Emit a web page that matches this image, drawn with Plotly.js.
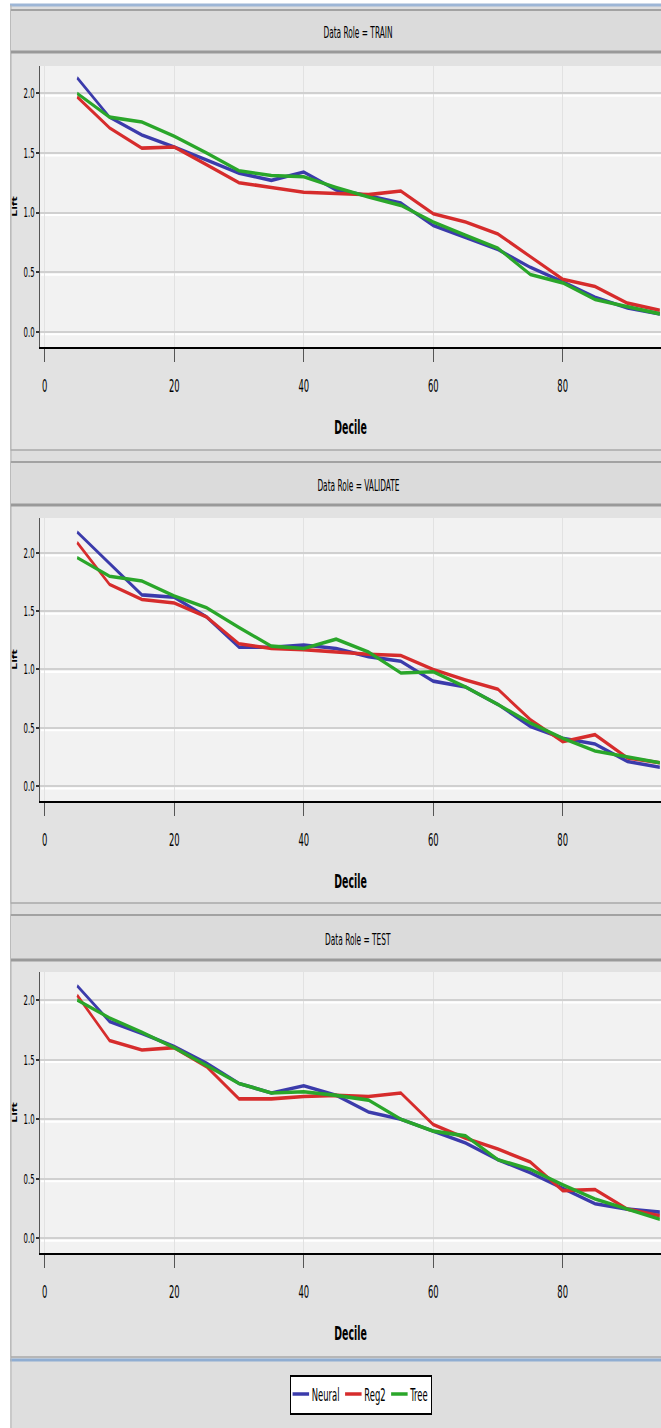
<!DOCTYPE html>
<html>
<head>
<meta charset="utf-8">
<script src="https://cdn.plot.ly/plotly-3.0.1.min.js"></script>
<style>
html,body{margin:0;padding:0;background:#ffffff;overflow:hidden;}
#wrap{width:661px;height:1428px;overflow:hidden;position:relative;}
#chart{width:1202px;height:1428px;transform:scaleX(0.55);transform-origin:0 0;}
svg text{font-stretch:condensed;}
</style>
</head>
<body>
<div id="wrap"><div id="chart"></div></div>
<script>
// ---- data ----
const deciles = [5,10,15,20,25,30,35,40,45,50,55,60,65,70,75,80,85,90,95];
const seriesNames = ["Neural", "Reg2", "Tree"];
const roles = ["TRAIN", "VALIDATE", "TEST"];

const trainNeural = [2.13,1.80,1.65,1.55,1.44,1.33,1.27,1.34,1.19,1.14,1.08,0.89,0.79,0.69,0.54,0.42,0.29,0.20,0.15];
const trainReg2   = [1.97,1.71,1.54,1.55,1.40,1.25,1.21,1.17,1.16,1.15,1.18,0.99,0.92,0.82,0.63,0.44,0.38,0.24,0.18];
const trainTree   = [2.00,1.80,1.76,1.64,1.50,1.35,1.31,1.30,1.21,1.13,1.06,0.92,0.81,0.70,0.48,0.41,0.27,0.21,0.15];

const validNeural = [2.18,1.91,1.64,1.62,1.45,1.19,1.19,1.21,1.18,1.11,1.07,0.90,0.85,0.70,0.51,0.41,0.36,0.21,0.16];
const validReg2   = [2.09,1.73,1.60,1.57,1.45,1.22,1.18,1.17,1.15,1.13,1.12,1.00,0.91,0.83,0.57,0.38,0.44,0.24,0.20];
const validTree   = [1.96,1.80,1.76,1.63,1.53,1.36,1.20,1.18,1.26,1.15,0.97,0.98,0.85,0.70,0.54,0.41,0.30,0.25,0.20];

const testNeural  = [2.12,1.82,1.72,1.61,1.47,1.30,1.22,1.28,1.20,1.06,1.00,0.90,0.80,0.66,0.55,0.42,0.29,0.245,0.22];
const testReg2    = [2.04,1.66,1.58,1.60,1.44,1.17,1.17,1.19,1.20,1.19,1.22,0.955,0.84,0.75,0.64,0.40,0.41,0.245,0.19];
const testTree    = [2.00,1.85,1.73,1.60,1.45,1.30,1.22,1.23,1.20,1.16,1.00,0.90,0.86,0.66,0.58,0.45,0.33,0.245,0.16];

const xTickVals = [0,20,40,60,80];
const xTickText = ["0","20","40","60","80"];
const yTickVals = [0,0.5,1,1.5,2];
const yTickText = ["0.0","0.5","1.0","1.5","2.0"];

// ---- styling / layout ----
const OUT_W = 661, H = 1428, SQUEEZE = 0.55;
const W = Math.round(OUT_W / SQUEEZE);
const FONT = "'DejaVu Sans', 'Liberation Sans', sans-serif";
const colors = ["#3b3bab", "#d62c2c", "#2aa62a"];
const px = p => p / OUT_W;          // output-pixel x -> paper fraction
const py = p => 1 - p / H;          // output-pixel y -> paper fraction

const panelData = [
  [trainNeural, trainReg2, trainTree],
  [validNeural, validReg2, validTree],
  [testNeural, testReg2, testTree]
];
const plotBoxes = [ {top:66, bottom:347, yr:[-0.128, 2.229]},
                    {top:518, bottom:801, yr:[-0.129, 2.30]},
                    {top:972, bottom:1253, yr:[-0.123, 2.235]} ];
const panelBoxes = [ {top:10, head:52, bottom:450},
                     {top:462, head:505, bottom:903},
                     {top:915, head:960, bottom:1357} ];

const traces = [];
panelData.forEach((set, pi) => {
  set.forEach((vals, si) => {
    traces.push({
      type: "scatter", mode: "lines",
      x: deciles, y: vals,
      name: seriesNames[si],
      legendgroup: seriesNames[si],
      showlegend: pi === 0,
      line: {color: colors[si], width: 3.6},
      xaxis: pi === 0 ? "x" : "x" + (pi + 1),
      yaxis: pi === 0 ? "y" : "y" + (pi + 1)
    });
  });
});

const layout = {
  width: W, height: H, autosize: false,
  margin: {l:0, r:0, t:0, b:0, pad:0},
  paper_bgcolor: "#ffffff",
  plot_bgcolor: "#f2f2f2",
  font: {family: FONT, color: "#000000", size: 12},
  showlegend: true,
  legend: {
    orientation: "h", x: px(361), xanchor: "center", y: py(1394.5), yanchor: "middle",
    bgcolor: "#ffffff", bordercolor: "#000000", borderwidth: 2,
    font: {family: FONT, size: 17, color: "#000000"},
    itemwidth: 30, tracegroupgap: 0
  },
  shapes: [],
  annotations: []
};

// frame background and blue rules
layout.shapes.push({type:"rect", xref:"paper", yref:"paper", x0:px(10), x1:px(OUT_W+5), y0:py(H+5), y1:py(5), fillcolor:"#dedede", line:{width:0}, layer:"below"});
layout.shapes.push({type:"line", xref:"paper", yref:"paper", x0:px(10), x1:px(OUT_W+5), y0:py(5), y1:py(5), line:{color:"#9db6d6", width:3}, layer:"below"});
layout.shapes.push({type:"line", xref:"paper", yref:"paper", x0:px(10), x1:px(OUT_W+5), y0:py(1360), y1:py(1360), line:{color:"#8fadd2", width:3}, layer:"below"});
layout.shapes.push({type:"line", xref:"paper", yref:"paper", x0:px(11), x1:px(11), y0:py(5), y1:py(1428), line:{color:"#b8b8b8", width:2}, layer:"below"});

panelBoxes.forEach((b, i) => {
  layout.shapes.push({type:"rect", xref:"paper", yref:"paper", x0:px(11), x1:px(OUT_W+5), y0:py(b.bottom), y1:py(b.top), fillcolor:"#e2e2e2", line:{color:"#a9a9a9", width:1.5}, layer:"below"});
  layout.shapes.push({type:"rect", xref:"paper", yref:"paper", x0:px(11), x1:px(OUT_W+5), y0:py(b.head), y1:py(b.top), fillcolor:"#dbdbdb", line:{width:0}, layer:"below"});
  layout.shapes.push({type:"line", xref:"paper", yref:"paper", x0:px(11), x1:px(OUT_W+5), y0:py(b.top), y1:py(b.top), line:{color:"#a2a2a2", width:2}, layer:"below"});
  layout.shapes.push({type:"line", xref:"paper", yref:"paper", x0:px(11), x1:px(OUT_W+5), y0:py(b.head), y1:py(b.head), line:{color:"#999999", width:3}, layer:"below"});
  layout.annotations.push({xref:"paper", yref:"paper", x:px(358), y:py((b.top + b.head) / 2 + 2), xanchor:"center", yanchor:"middle",
    text:"Data Role = " + roles[i], showarrow:false, font:{family:FONT, size:15, color:"#000000"}});
});

plotBoxes.forEach((b, i) => {
  const sfx = i === 0 ? "" : String(i + 1);
  // plot-area background (drawn under the grid)
  layout.shapes.push({type:"rect", xref:"paper", yref:"paper", x0:px(40), x1:px(OUT_W+5), y0:py(b.bottom), y1:py(b.top), fillcolor:"#f2f2f2", line:{width:0}, layer:"below"});
  // white highlight just under each horizontal grid line
  yTickVals.forEach(v => {
    layout.shapes.push({type:"line", xref:"paper", yref:"y" + sfx, ysizemode:"pixel", yanchor:v, x0:px(41), x1:px(OUT_W+5), y0:-2.5, y1:-2.5, line:{color:"#ffffff", width:2}, layer:"below"});
  });
  layout["xaxis" + sfx] = {
    domain: [px(40), 1], range: [-0.74, 95.2], anchor: "y" + sfx,
    tickmode: "array", tickvals: xTickVals, ticktext: xTickText,
    ticks: "outside", ticklen: 13, tickwidth: 2, tickcolor: "#555555",
    ticklabelstandoff: 10,
    showline: true, linecolor: "#000000", linewidth: 2,
    showgrid: true, gridcolor: "#e2e2e2", gridwidth: 2, zeroline: false,
    tickfont: {family: FONT, size: 17, color: "#000000"},
    title: {text: "<b>Decile</b>", font: {family: FONT, size: 19, color: "#000000"}, standoff: 25},
    fixedrange: true
  };
  layout["yaxis" + sfx] = {
    domain: [py(b.bottom), py(b.top)], range: b.yr, anchor: "x" + sfx,
    tickmode: "array", tickvals: yTickVals, ticktext: yTickText,
    ticks: "outside", ticklen: 5, tickwidth: 2, tickcolor: "#333333",
    showline: true, linecolor: "#555555", linewidth: 2,
    showgrid: true, gridcolor: "#d0d0d0", gridwidth: 2, zeroline: false,
    tickfont: {family: FONT, size: 14, color: "#000000"},
    title: {text: "<b>Lift</b>", font: {family: FONT, size: 12, color: "#000000"}, standoff: 8},
    fixedrange: true
  };
});

Plotly.newPlot("chart", traces, layout, {displayModeBar: false, staticPlot: true});
</script>
</body>
</html>
